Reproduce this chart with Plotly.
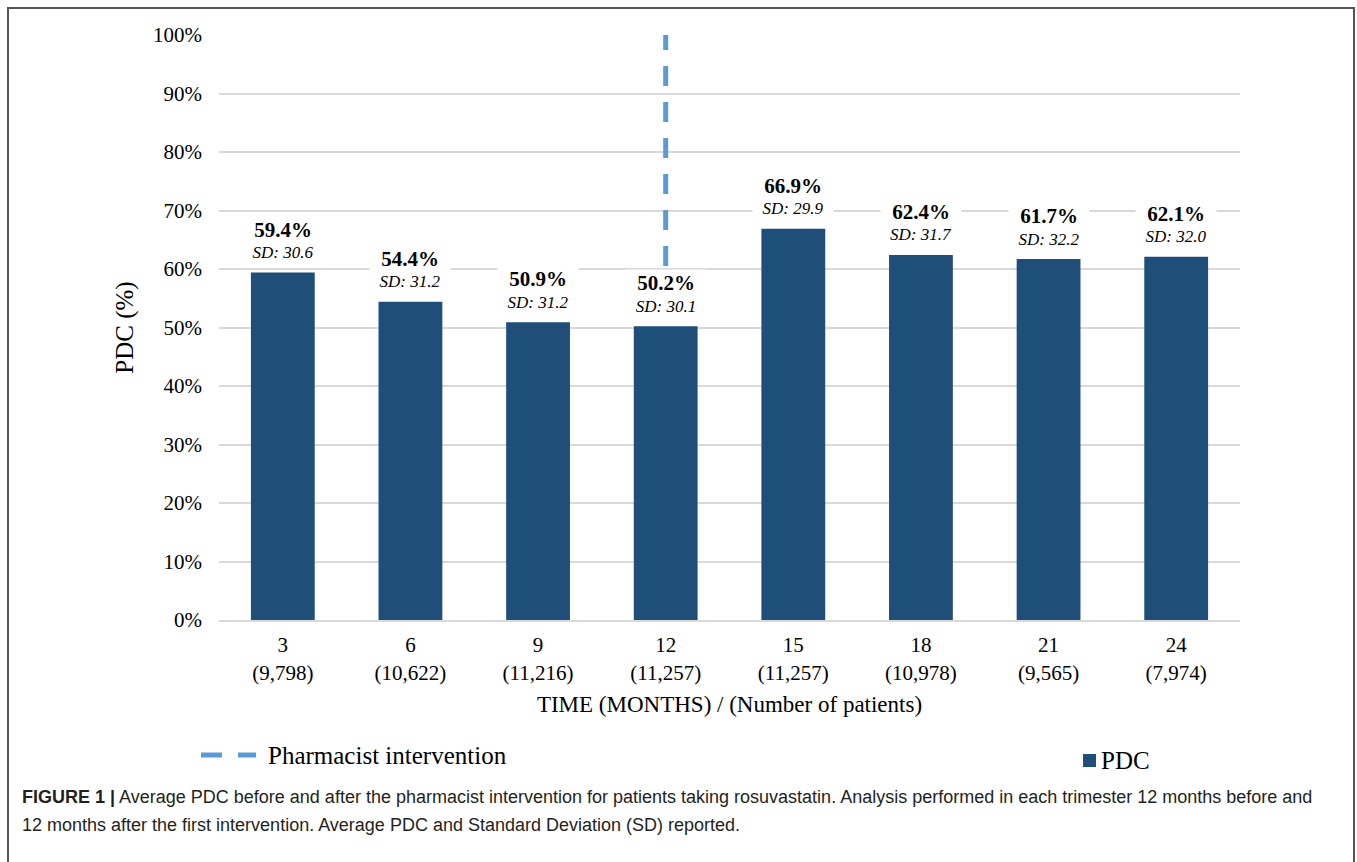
import plotly.graph_objects as go

# Average PDC per trimester, with standard deviation and cohort size
months = ["3", "6", "9", "12", "15", "18", "21", "24"]
patients = ["9,798", "10,622", "11,216", "11,257", "11,257", "10,978", "9,565", "7,974"]
pdc_mean = [59.4, 54.4, 50.9, 50.2, 66.9, 62.4, 61.7, 62.1]
pdc_sd = [30.6, 31.2, 31.2, 30.1, 29.9, 31.7, 32.2, 32.0]

# Pharmacist intervention marker (month, vertical extent in %)
intervention_month = "12"
intervention_span = [60.5, 100]

y_ticks = [0, 10, 20, 30, 40, 50, 60, 70, 80, 90, 100]
y_tick_text = [f"{t}%" for t in y_ticks]

W, H = 1357, 862
ML, MR, MT, MB = 219, 117, 35, 242
PW, PH = W - ML - MR, H - MT - MB

SERIF = "Liberation Serif, Times New Roman, serif"
SANS = "Liberation Sans, Arial, sans-serif"
BAR_COLOR = "#1F4E79"
DASH_COLOR = "#5B9BD5"


def px_x(px):
    return (px - ML) / PW


def px_y(py):
    return (H - MB - py) / PH


fig = go.Figure()

fig.add_trace(go.Bar(
    x=months, y=pdc_mean, width=0.5,
    marker=dict(color=BAR_COLOR, line=dict(width=0)),
    name="PDC", showlegend=False, hoverinfo="x+y",
))

fig.add_trace(go.Scatter(
    x=[intervention_month, intervention_month], y=intervention_span,
    mode="lines", line=dict(color=DASH_COLOR, width=5, dash="20px,16px"),
    name="Pharmacist intervention", showlegend=False,
))

annotations = []
# value labels: category axes take the category index for annotation positions
for i, (v, sd) in enumerate(zip(pdc_mean, pdc_sd)):
    annotations.append(dict(
        x=i, y=v, xref="x", yref="y", text=f"<b>{v:.1f}%</b>",
        showarrow=False, yanchor="middle", yshift=43, width=78,
        font=dict(family=SERIF, size=21, color="#000000"),
        bgcolor="#ffffff", borderpad=1,
    ))
    annotations.append(dict(
        x=i, y=v, xref="x", yref="y", text=f"<i>SD: {sd:.1f}</i>",
        showarrow=False, yanchor="middle", yshift=20, width=78,
        font=dict(family=SERIF, size=17, color="#000000"),
        bgcolor="#ffffff", borderpad=1,
    ))

# Legend entries
annotations.append(dict(
    x=px_x(266), y=px_y(755), xref="paper", yref="paper",
    text="Pharmacist intervention", showarrow=False,
    xanchor="left", yanchor="middle",
    font=dict(family=SERIF, size=25, color="#000000"),
))
annotations.append(dict(
    x=px_x(1099), y=px_y(760), xref="paper", yref="paper",
    text="PDC", showarrow=False, xanchor="left", yanchor="middle",
    font=dict(family=SERIF, size=25, color="#000000"),
))

# Figure caption
annotations.append(dict(
    x=px_x(20), y=px_y(797), xref="paper", yref="paper",
    text="<b>FIGURE 1 |</b> Average PDC before and after the pharmacist intervention "
         "for patients taking rosuvastatin. Analysis performed in each trimester "
         "12 months before and",
    showarrow=False, xanchor="left", yanchor="middle",
    font=dict(family=SANS, size=18, color="#231f20"),
))
annotations.append(dict(
    x=px_x(20), y=px_y(825), xref="paper", yref="paper",
    text="12 months after the first intervention. Average PDC and Standard "
         "Deviation (SD) reported.",
    showarrow=False, xanchor="left", yanchor="middle",
    font=dict(family=SANS, size=18, color="#231f20"),
))

shapes = [
    # outer frame
    dict(type="rect", xref="paper", yref="paper",
         x0=px_x(8), x1=px_x(1354), y0=px_y(880), y1=px_y(8),
         line=dict(color="#555555", width=2), fillcolor="rgba(0,0,0,0)"),
    # legend swatch: dashed line
    dict(type="line", xref="paper", yref="paper",
         x0=px_x(201), x1=px_x(256), y0=px_y(755), y1=px_y(755),
         line=dict(color=DASH_COLOR, width=5, dash="21px,16px")),
    # legend swatch: bar
    dict(type="rect", xref="paper", yref="paper",
         x0=px_x(1083), x1=px_x(1096), y0=px_y(767), y1=px_y(754),
         line=dict(width=0), fillcolor=BAR_COLOR),
]

fig.update_layout(
    width=W, height=H,
    margin=dict(l=ML, r=MR, t=MT, b=MB, pad=0),
    paper_bgcolor="#ffffff", plot_bgcolor="#ffffff",
    bargap=0.5, showlegend=False,
    annotations=annotations, shapes=shapes,
    font=dict(family=SERIF, color="#000000"),
)

fig.update_xaxes(
    type="category", categoryorder="array", categoryarray=months,
    range=[-0.5, len(months) - 0.5],
    tickmode="array", tickvals=months,
    ticktext=[f"{m}<br>({p})" for m, p in zip(months, patients)],
    tickangle=0,
    tickfont=dict(family=SERIF, size=21, color="#000000"),
    ticks="", ticklabelstandoff=5,
    showgrid=False, showline=True, linecolor="#d9d9d9", linewidth=2,
    zeroline=False,
    title=dict(text="TIME (MONTHS) / (Number of patients)",
               font=dict(family=SERIF, size=23, color="#000000"), standoff=12),
)

fig.update_yaxes(
    range=[0, 100], tickmode="array", tickvals=y_ticks, ticktext=y_tick_text,
    tickfont=dict(family=SERIF, size=21, color="#000000"),
    ticks="", ticklabelstandoff=16,
    showgrid=True, gridcolor="#d9d9d9", gridwidth=2,
    zeroline=False, showline=False,
    title=dict(text="PDC (%)", font=dict(family=SERIF, size=25, color="#000000"),
               standoff=12),
)

fig.write_html("out.html")
